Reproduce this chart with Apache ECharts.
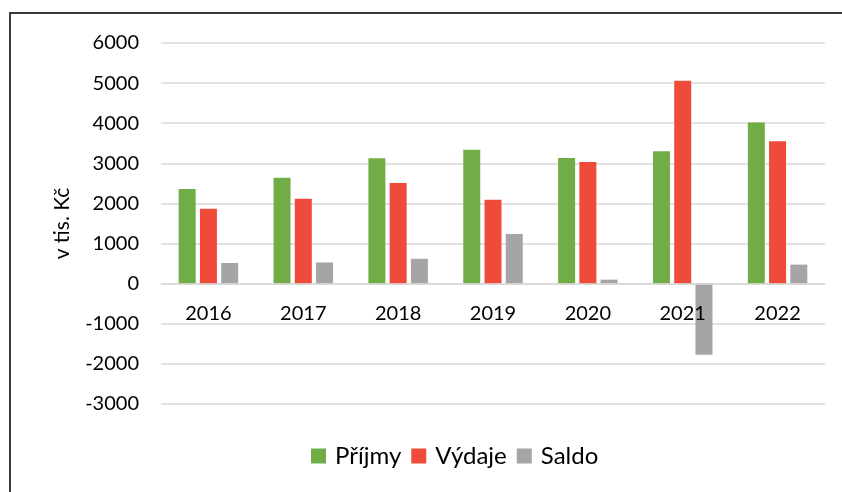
<!DOCTYPE html>
<html>
<head>
<meta charset="utf-8">
<script src="https://cdn.jsdelivr.net/npm/echarts@6/dist/echarts.min.js"></script>
<style>
  html, body { margin: 0; padding: 0; background: #fff; }
  #chart { width: 842px; height: 492px; }
</style>
</head>
<body>
<div id="chart"></div>
<script>
  // roky
  var years = ['2016', '2017', '2018', '2019', '2020', '2021', '2022'];
  // hodnoty v tis. Kč
  var prijmy = [2360, 2640, 3125, 3340, 3135, 3300, 4020];
  var vydaje = [1865, 2120, 2510, 2095, 3035, 5060, 3550];
  var saldo = [515, 530, 620, 1240, 100, -1770, 475];

  var font = 'Lato, "Open Sans", sans-serif';
  var chart = echarts.init(document.getElementById('chart'));

  chart.setOption({
    animation: false,
    textStyle: { fontFamily: font },
    graphic: [{
      type: 'rect',
      shape: { x: 10, y: 13, width: 840, height: 490 },
      style: { fill: 'none', stroke: '#3a3a3a', lineWidth: 2 }
    }],
    grid: {
      left: 161,
      right: 17,
      top: 43,
      bottom: 88
    },
    legend: {
      data: ['Příjmy', 'Výdaje', 'Saldo'],
      top: 439,
      left: 306,
      icon: 'rect',
      itemWidth: 15,
      itemHeight: 15,
      itemGap: 10,
      textStyle: { fontSize: 24, color: '#000', fontFamily: font, padding: [0, 0, 0, 4] }
    },
    xAxis: {
      type: 'category',
      data: years,
      z: 5,
      axisLine: { show: true, onZero: true, lineStyle: { color: '#d9d9d9', width: 1.5 } },
      axisTick: { show: false },
      // popisky u nulové osy
      axisLabel: { fontSize: 20, color: '#000', margin: -100, fontFamily: font }
    },
    yAxis: {
      type: 'value',
      min: -3000,
      max: 6000,
      interval: 1000,
      name: 'v tis. Kč',
      nameLocation: 'middle',
      nameGap: 88,
      nameRotate: 90,
      nameTextStyle: { fontSize: 21, color: '#000', fontFamily: font },
      axisLabel: { fontSize: 20, color: '#000', margin: 22, fontFamily: font, formatter: function (v) { return String(v); } },
      splitLine: { lineStyle: { color: '#d9d9d9', width: 1.5 } }
    },
    series: [
      {
        name: 'Příjmy',
        type: 'bar',
        data: prijmy,
        barWidth: 17,
        barGap: '25%',
        itemStyle: { color: '#70AD47' }
      },
      {
        name: 'Výdaje',
        type: 'bar',
        data: vydaje,
        barWidth: 17,
        barGap: '25%',
        itemStyle: { color: '#EF4B3A' }
      },
      {
        name: 'Saldo',
        type: 'bar',
        data: saldo,
        barWidth: 17,
        barGap: '25%',
        itemStyle: { color: '#A5A5A5' }
      }
    ]
  });
</script>
</body>
</html>
